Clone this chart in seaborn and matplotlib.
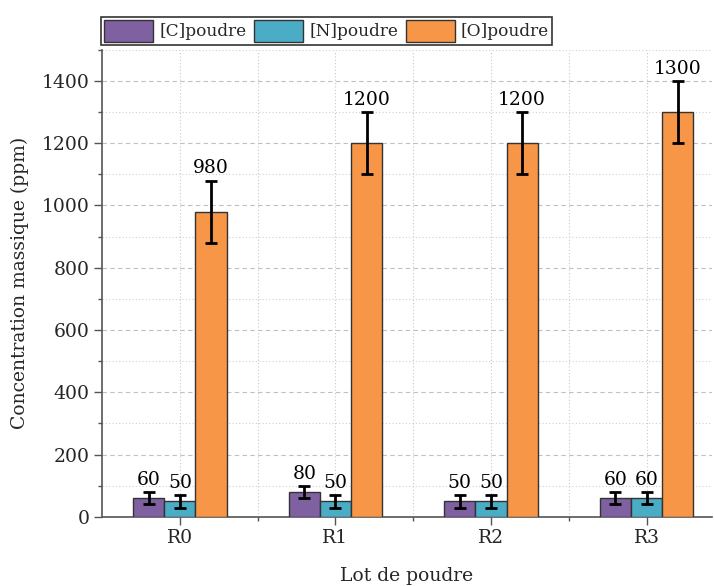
import numpy as np
import pandas as pd
import matplotlib
matplotlib.use("Agg")
import matplotlib.pyplot as plt
from matplotlib.ticker import MultipleLocator, FixedLocator
import seaborn as sns

# Data
LOTS = ["R0", "R1", "R2", "R3"]
SERIES = ["[C]poudre", "[N]poudre", "[O]poudre"]
C_VALUES = [60, 80, 50, 60]
N_VALUES = [50, 50, 50, 60]
O_VALUES = [980, 1200, 1200, 1300]
C_ERR = [20, 20, 20, 20]
N_ERR = [20, 20, 20, 20]
O_ERR = [100, 100, 100, 100]

COLORS = ["#7F60A1", "#4BACC6", "#F79646"]

sns.set_theme(style="white")
plt.rcParams["font.family"] = ["DejaVu Serif"]

values = [C_VALUES, N_VALUES, O_VALUES]
errors = [C_ERR, N_ERR, O_ERR]
df = pd.DataFrame({
    "lot": LOTS * 3,
    "serie": np.repeat(SERIES, len(LOTS)),
    "ppm": C_VALUES + N_VALUES + O_VALUES,
})

fig = plt.figure(figsize=(7.14, 5.86), dpi=100)
ax = fig.add_axes([0.143, 0.118, 0.854, 0.797])

sns.barplot(data=df, x="lot", y="ppm", hue="serie", order=LOTS,
            hue_order=SERIES, palette=COLORS, width=0.6, saturation=1,
            edgecolor="#333333", linewidth=1, errorbar=None, ax=ax, zorder=3)

# error bars + value labels, positioned on the bar centres
bar_containers = list(ax.containers)
for s_idx, cont in enumerate(bar_containers):
    for i, bar in enumerate(cont):
        x = bar.get_x() + bar.get_width() / 2
        v = values[s_idx][i]
        e = errors[s_idx][i]
        ax.errorbar(x, v, yerr=e, fmt="none", ecolor="black", elinewidth=2,
                    capsize=4, capthick=2, zorder=4)
        ax.text(x, v + e + 10, f"{v}", ha="center", va="bottom",
                fontsize=13.5, color="black", zorder=5)

ax.set_ylim(0, 1500)
ax.set_xlim(-0.5, 3.42)
ax.yaxis.set_major_locator(MultipleLocator(200))
ax.yaxis.set_minor_locator(MultipleLocator(100))
ax.xaxis.set_minor_locator(FixedLocator([0.5, 1.5, 2.5]))

ax.grid(True, which="major", axis="y", color="#c0c0c0", ls=(0, (4, 3)), lw=0.8, zorder=0)
ax.grid(True, which="minor", axis="y", color="#d0d0d0", ls=(0, (1, 2)), lw=0.8, zorder=0)
ax.grid(True, which="both", axis="x", color="#c8c8c8", ls=(0, (1, 2)), lw=0.8, zorder=0)

for side in ["top", "right"]:
    ax.spines[side].set_visible(False)
for side in ["left", "bottom"]:
    ax.spines[side].set_color("#555555")
    ax.spines[side].set_linewidth(1.2)

ax.tick_params(which="major", direction="out", length=6, width=1,
               color="#555555", labelsize=13.5, left=True, bottom=True, pad=3)
ax.tick_params(which="minor", direction="out", length=3, width=1,
               color="#555555", left=True, bottom=True)

ax.set_xlabel("Lot de poudre", fontsize=13.5, labelpad=14)
ax.set_ylabel("Concentration massique (ppm)", fontsize=13.5, labelpad=9)

leg = ax.legend(loc="lower left", bbox_to_anchor=(-0.002, 1.01), ncol=3,
                frameon=True, fancybox=False, fontsize=12.2, handlelength=2.9,
                handleheight=1.6, columnspacing=0.45, handletextpad=0.35,
                borderpad=0.2, borderaxespad=0)
leg.get_frame().set_edgecolor("black")
leg.get_frame().set_linewidth(1.2)
for h in leg.legend_handles:
    h.set_edgecolor("#333333")

fig.savefig("out.png", dpi=100)
